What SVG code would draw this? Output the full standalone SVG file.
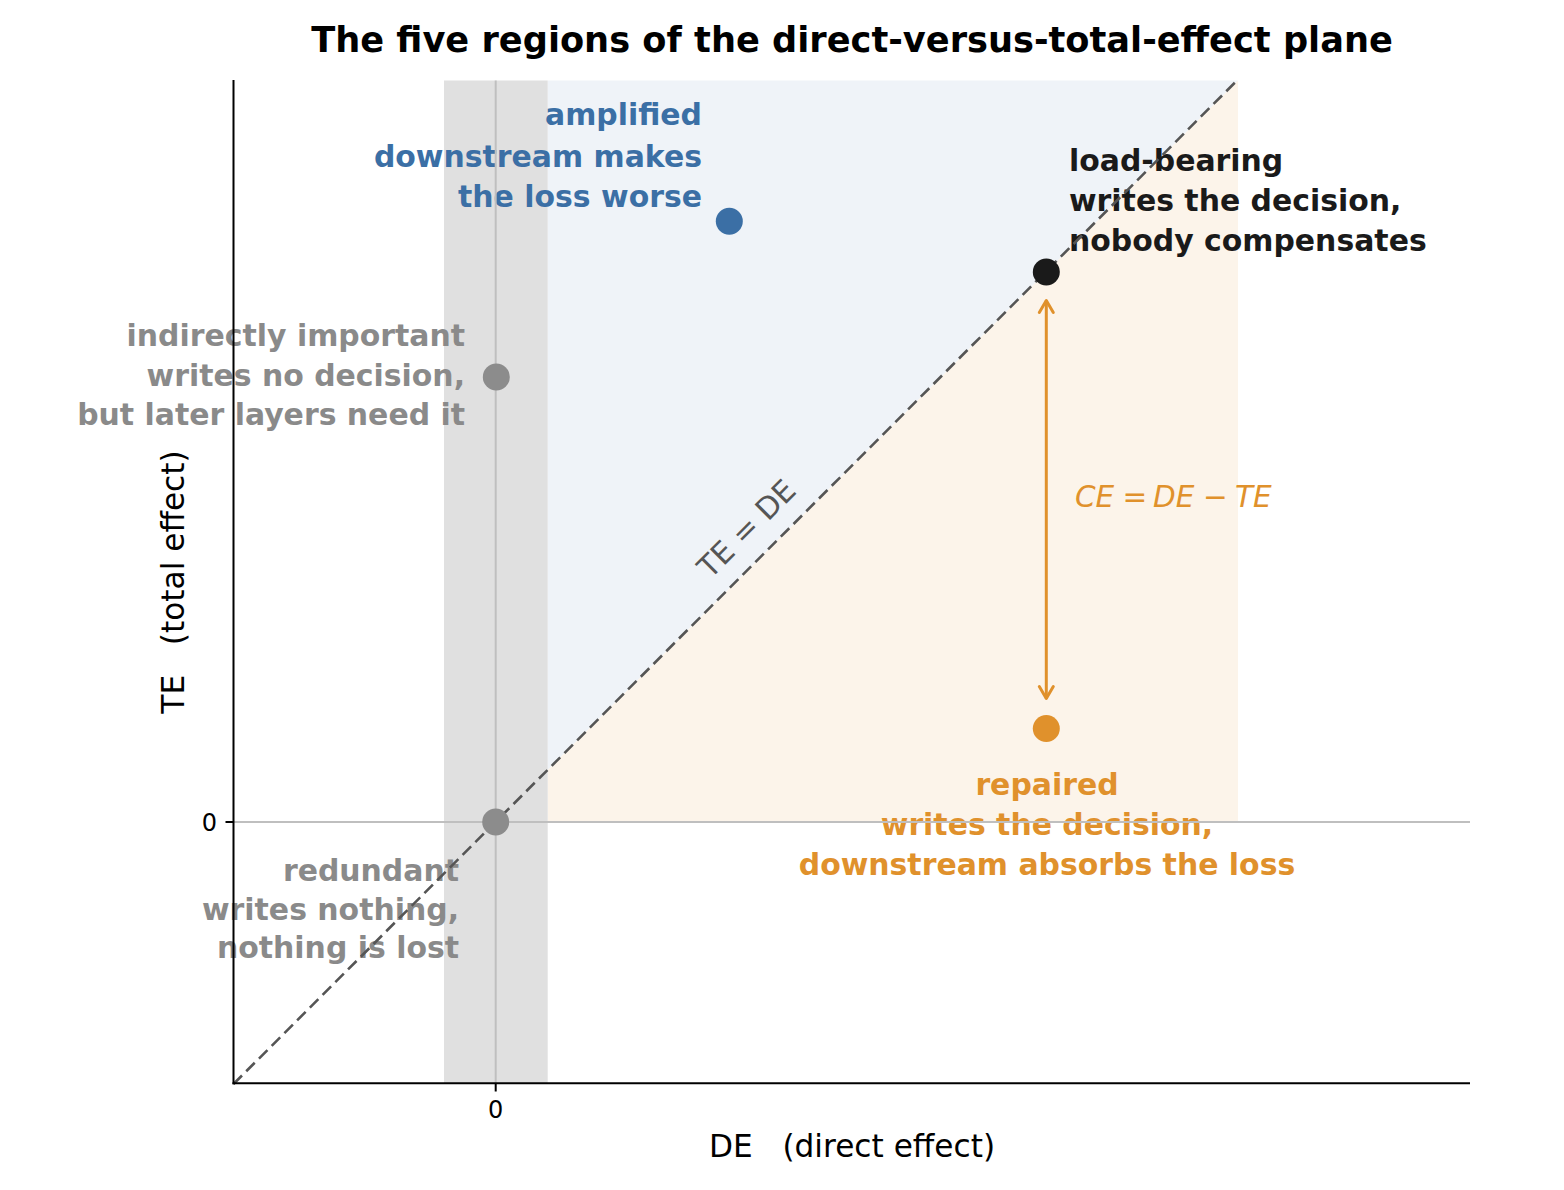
<svg xmlns="http://www.w3.org/2000/svg" width="1564" height="1190" viewBox="0 0 1564 1190">
<defs>
<style>
text { font-family: "DejaVu Sans", "Liberation Sans", sans-serif; }
.b { font-weight: bold; font-size: 29.9px; }
.blue { fill: #3b6fa5; }
.grey { fill: #8a8a8a; }
.dark { fill: #1a1a1a; }
.orange { fill: #e0912c; }
.zero { stroke: #bfbfbf; stroke-width: 2; fill: none; }
.spine { stroke: #000; stroke-width: 2; fill: none; }
.lbl { font-size: 31.2px; fill: #000; }
.tick { font-size: 24px; fill: #000; }
.it { font-style: italic; }
</style>
<marker id="ah" viewBox="-14 -9 16 18" markerWidth="16" markerHeight="18" refX="0" refY="0" orient="auto-start-reverse" markerUnits="userSpaceOnUse" overflow="visible">
<path d="M -12 -7 L 0 0 L -12 7" fill="none" stroke="#e0912c" stroke-width="3" stroke-linejoin="round" stroke-linecap="round"/>
</marker>
</defs>
<rect x="0" y="0" width="1564" height="1190" fill="#ffffff"/>

<g id="regions">
<polygon points="547.7,80.5 1238,80.5 547.7,770" fill="#eff3f8"/>
<polygon points="547.7,770 1238,80.5 1238,822 547.7,822" fill="#fcf4ea"/>
<rect x="444" y="80.5" width="103.7" height="1002.8" fill="#e0e0e0"/>
</g>

<text id="title" x="852" y="52" font-size="35.2" font-weight="bold" text-anchor="middle" fill="#000">The five regions of the direct-versus-total-effect plane</text>

<g id="node-amplified">
<text class="b blue" text-anchor="end"><tspan x="702" y="125">amplified</tspan><tspan x="702" y="167">downstream makes</tspan><tspan x="702" y="207">the loss worse</tspan></text>
</g>
<g id="node-load-bearing-label">
<text class="b dark"><tspan x="1069" y="171">load-bearing</tspan><tspan x="1069" y="211">writes the decision,</tspan><tspan x="1069" y="251">nobody compensates</tspan></text>
</g>
<g id="node-indirect-label">
<text class="b grey" text-anchor="end"><tspan x="465" y="346">indirectly important</tspan><tspan x="465" y="386">writes no decision,</tspan><tspan x="465" y="425">but later layers need it</tspan></text>
</g>
<g id="node-redundant-label">
<text class="b grey" text-anchor="end"><tspan x="459" y="881">redundant</tspan><tspan x="459" y="920">writes nothing,</tspan><tspan x="459" y="958">nothing is lost</tspan></text>
</g>
<g id="node-repaired-label">
<text class="b orange" text-anchor="middle"><tspan x="1047" y="795">repaired</tspan><tspan x="1047" y="835">writes the decision,</tspan><tspan x="1047" y="875">downstream absorbs the loss</tspan></text>
</g>

<g id="zero-lines">
<line class="zero" x1="495.7" y1="80.5" x2="495.7" y2="1083"/>
<line class="zero" x1="234" y1="822" x2="1470" y2="822"/>
</g>

<g id="connectors">
<line id="diagonal" x1="233.5" y1="1084" x2="1238" y2="79.5" stroke="#555555" stroke-width="2.6" stroke-dasharray="12,6"/>
<text x="754" y="536" font-size="30" fill="#555555" text-anchor="middle" transform="rotate(-45 754 536)">TE = DE</text>
<line id="ce-arrow" x1="1046.3" y1="300.5" x2="1046.3" y2="698.5" stroke="#e0912c" stroke-width="3" marker-start="url(#ah)" marker-end="url(#ah)"/>
<text class="orange" font-size="29.5" y="507"><tspan class="it" x="1075">CE</tspan><tspan x="1122.5">=</tspan><tspan class="it" x="1153">DE</tspan><tspan x="1203">−</tspan><tspan class="it" x="1235">TE</tspan></text>
</g>

<g id="nodes">
<g id="node-redundant"><circle cx="495.7" cy="822" r="13.5" fill="#8c8c8c"/></g>
<g id="node-indirect"><circle cx="496.3" cy="377" r="13.5" fill="#8c8c8c"/></g>
<g id="node-amplified-dot"><circle cx="729.3" cy="221.3" r="13.5" fill="#3b6fa5"/></g>
<g id="node-load-bearing"><circle cx="1046.3" cy="272" r="13.5" fill="#1a1a1a"/></g>
<g id="node-repaired"><circle cx="1046.3" cy="728.5" r="13.5" fill="#e0912c"/></g>
</g>

<g id="axes">
<line class="spine" x1="233.5" y1="80" x2="233.5" y2="1084.3"/>
<line class="spine" x1="232.5" y1="1083.3" x2="1470" y2="1083.3"/>
<line class="spine" x1="495.7" y1="1083.3" x2="495.7" y2="1091.5"/>
<line class="spine" x1="225.5" y1="822" x2="233.5" y2="822"/>
<text class="tick" x="495.7" y="1118" text-anchor="middle">0</text>
<text class="tick" x="217" y="830.5" text-anchor="end">0</text>
<text class="lbl" x="852" y="1157" text-anchor="middle" xml:space="preserve">DE   (direct effect)</text>
<text class="lbl" x="0" y="0" text-anchor="middle" transform="translate(184 582) rotate(-90)" xml:space="preserve">TE   (total effect)</text>
</g>
</svg>
